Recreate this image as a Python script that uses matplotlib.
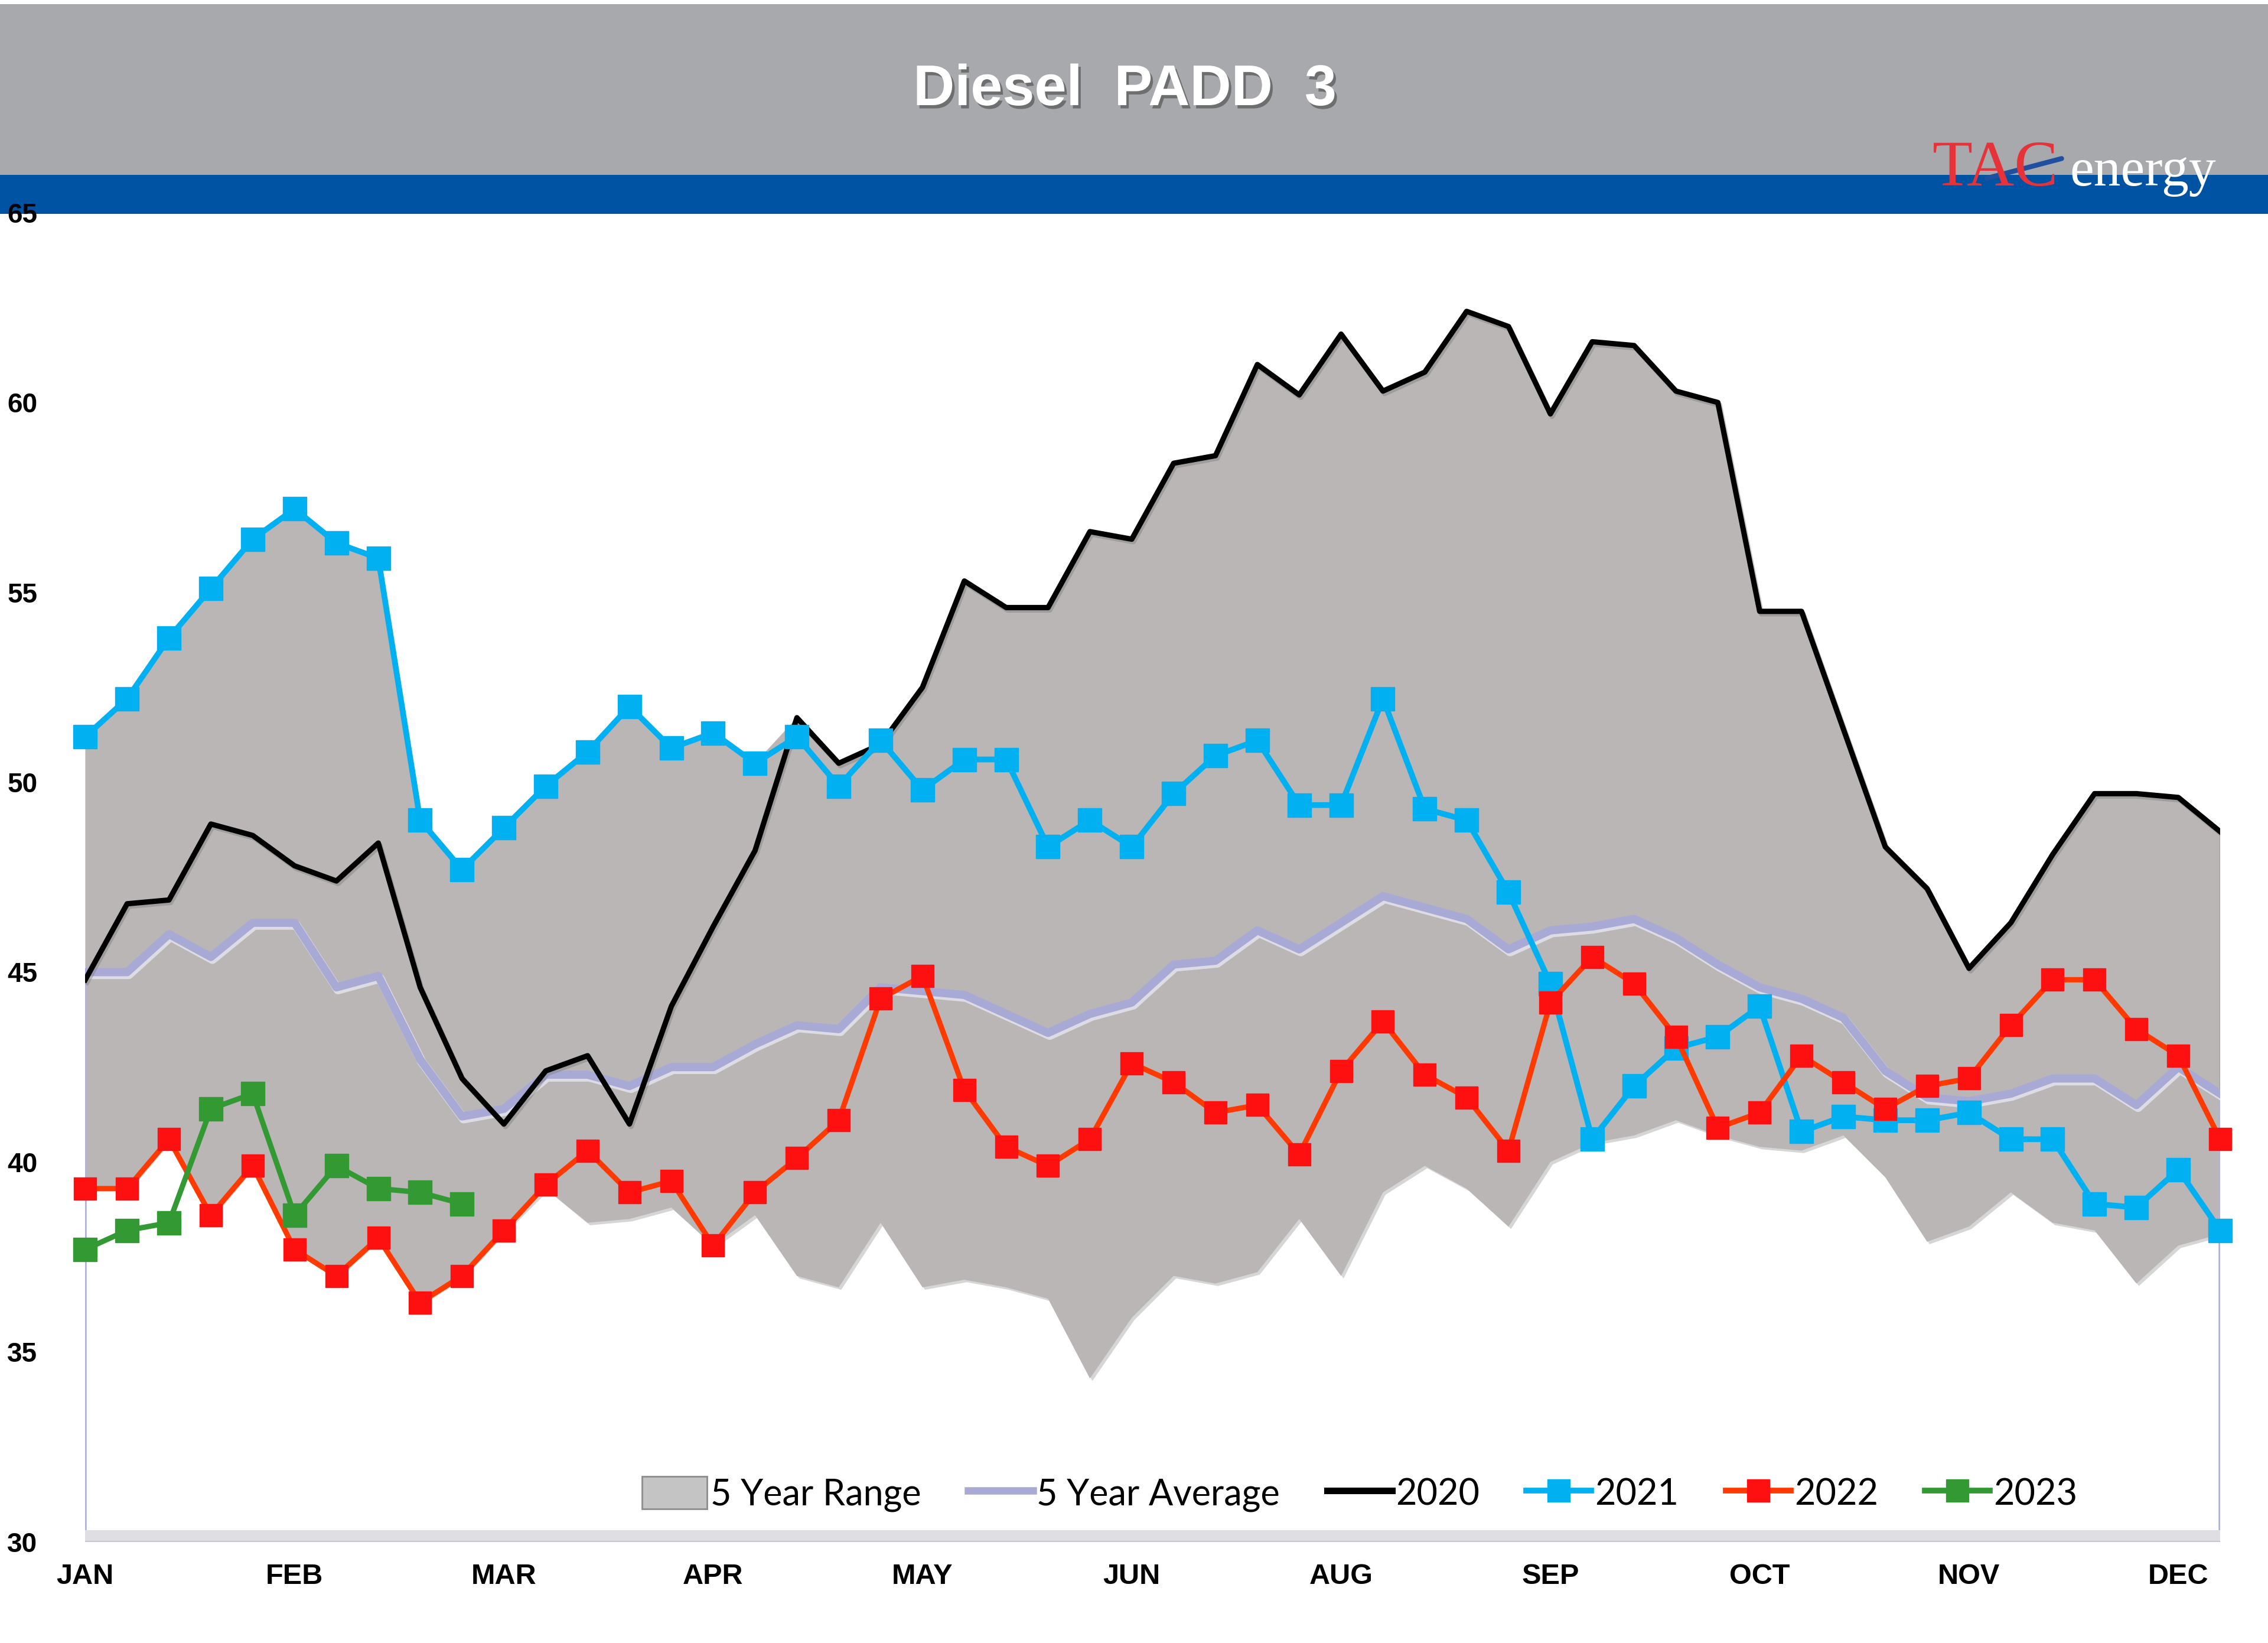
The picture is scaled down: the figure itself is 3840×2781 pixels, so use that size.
import numpy as np
import matplotlib.pyplot as plt
import matplotlib.patheffects as pe
from matplotlib.patches import Rectangle, Patch
from matplotlib.lines import Line2D

# --- data (weekly, 52 weeks) ---
weeks = np.arange(52)
month_ticks = [0, 5, 10, 15, 20, 25, 30, 35, 40, 45, 50]
month_labels = ["JAN", "FEB", "MAR", "APR", "MAY", "JUN", "AUG", "SEP", "OCT", "NOV", "DEC"]

y2020 = [44.8, 46.8, 46.9, 48.9, 48.6, 47.8, 47.4, 48.4, 44.6, 42.2, 41.0, 42.4, 42.8, 41.0,
         44.1, 46.2, 48.2, 51.7, 50.5, 51.0, 52.5, 55.3, 54.6, 54.6, 56.6, 56.4, 58.4, 58.6,
         61.0, 60.2, 61.8, 60.3, 60.8, 62.4, 62.0, 59.7, 61.6, 61.5, 60.3, 60.0, 54.5, 54.5,
         51.4, 48.3, 47.2, 45.1, 46.3, 48.1, 49.7, 49.7, 49.6, 48.7]

y2021 = [51.2, 52.2, 53.8, 55.1, 56.4, 57.2, 56.3, 55.9, 49.0, 47.7, 48.8, 49.9, 50.8, 52.0,
         50.9, 51.3, 50.5, 51.2, 49.9, 51.1, 49.8, 50.6, 50.6, 48.3, 49.0, 48.3, 49.7, 50.7,
         51.1, 49.4, 49.4, 52.2, 49.3, 49.0, 47.1, 44.7, 40.6, 42.0, 43.0, 43.3, 44.1, 40.8,
         41.2, 41.1, 41.1, 41.3, 40.6, 40.6, 38.9, 38.8, 39.8, 38.2]

y2022 = [39.3, 39.3, 40.6, 38.6, 39.9, 37.7, 37.0, 38.0, 36.3, 37.0, 38.2, 39.4, 40.3, 39.2,
         39.5, 37.8, 39.2, 40.1, 41.1, 44.3, 44.9, 41.9, 40.4, 39.9, 40.6, 42.6, 42.1, 41.3,
         41.5, 40.2, 42.4, 43.7, 42.3, 41.7, 40.3, 44.2, 45.4, 44.7, 43.3, 40.9, 41.3, 42.8,
         42.1, 41.4, 42.0, 42.2, 43.6, 44.8, 44.8, 43.5, 42.8, 40.6]

y2023 = [37.7, 38.2, 38.4, 41.4, 41.8, 38.6, 39.9, 39.3, 39.2, 38.9]

avg5 = [45.0, 45.0, 46.0, 45.4, 46.3, 46.3, 44.6, 44.9, 42.7, 41.2, 41.4, 42.3, 42.3, 42.0,
        42.5, 42.5, 43.1, 43.6, 43.5, 44.6, 44.5, 44.4, 43.9, 43.4, 43.9, 44.2, 45.2, 45.3,
        46.1, 45.6, 46.3, 47.0, 46.7, 46.4, 45.6, 46.1, 46.2, 46.4, 45.9, 45.2, 44.6, 44.3,
        43.8, 42.4, 41.7, 41.6, 41.8, 42.2, 42.2, 41.5, 42.5, 41.8]

range_low = [39.3, 39.3, 40.6, 38.6, 39.9, 37.7, 37.0, 38.0, 36.3, 37.0, 38.2, 39.3, 38.4, 38.5,
             38.8, 37.8, 38.6, 37.0, 36.7, 38.4, 36.7, 36.9, 36.7, 36.4, 34.3, 35.9, 37.0, 36.8,
             37.1, 38.5, 37.0, 39.2, 39.9, 39.3, 38.3, 40.0, 40.5, 40.7, 41.1, 40.7, 40.4, 40.3,
             40.7, 39.6, 37.9, 38.3, 39.2, 38.4, 38.2, 36.8, 37.8, 38.1]
range_high = np.maximum(y2020, y2021)

# --- colours ---
C_RANGE = "#bab6b6"
C_AVG = "#a9a9d6"
C_2021 = "#00b0f0"
C_2022_LINE = "#ff3a00"
C_2022_MARK = "#ff1010"
C_2023 = "#339933"

fig = plt.figure(figsize=(38.4, 27.81), dpi=100)

# header band + blue stripe
fig.patches.append(Rectangle((0, 0.8936), 1, 0.104, transform=fig.transFigure,
                             facecolor="#a7a9ac", edgecolor="none", zorder=-1))
fig.patches.append(Rectangle((0, 0.8698), 1, 0.0238, transform=fig.transFigure,
                             facecolor="#0053a3", edgecolor="none", zorder=-1))

fig.text(0.496, 0.945, "Diesel  PADD  3", color="white", fontsize=70, fontweight="bold",
         family="Liberation Sans", ha="center", va="center",
         path_effects=[pe.withSimplePatchShadow(offset=(3, -4), shadow_rgbFace="#555555", alpha=0.7)])

# logo
fig.text(0.852, 0.887, "TAC", color="#e63339", fontsize=80, family="Liberation Serif",
         ha="left", va="baseline")
fig.text(0.9125, 0.887, "energy", color="white", fontsize=66, family="Liberation Serif",
         ha="left", va="baseline")
fig.lines.append(Line2D([0.876, 0.909], [0.8915, 0.9035], transform=fig.transFigure,
                        color="#1f4f9f", lw=6, solid_capstyle="round"))

ax = fig.add_axes([0.0376, 0.0616, 0.9413, 0.809])
ax.set_zorder(2)
ax.patch.set_alpha(0)
ax.set_xlim(0, 51)
ax.set_ylim(30, 65)
for s in ax.spines.values():
    s.set_visible(False)

# 5 year range
ax.fill_between(weeks, range_low, range_high, color=C_RANGE, lw=0, zorder=1,
                path_effects=[pe.withSimplePatchShadow(offset=(3, -3), shadow_rgbFace="#8a8a8a", alpha=0.35)])

# edges of the area down to the floor
ax.vlines([weeks[0], weeks[-1]], 30, [avg5[0], avg5[-1]], color="#b3b3d4", lw=4, zorder=2)
ax.vlines([weeks[-1]], avg5[-1], range_high[-1], color="#9a9a9a", lw=2, zorder=2)

# floor
ax.axhspan(30, 30.3, color="#dedee3", lw=0, zorder=2)
ax.axhline(30, color="#c6c6ce", lw=3, zorder=2)

ax.plot(weeks, avg5, color="#e6e6f0", lw=11, zorder=3, alpha=0.8,
        path_effects=[pe.Stroke(offset=(2, -3))])
ax.plot(weeks, avg5, color=C_AVG, lw=10, zorder=3)
ax.plot(weeks, y2020, color="black", lw=6.5, zorder=4,
        path_effects=[pe.SimpleLineShadow(offset=(2, -3), shadow_color="#777777", alpha=0.4), pe.Normal()])
ax.plot(weeks, y2021, color=C_2021, lw=7, marker="s", markersize=29, zorder=5, clip_on=False)
ax.plot(weeks, y2022, color=C_2022_LINE, lw=6.5, marker="s", markersize=27,
        markerfacecolor=C_2022_MARK, markeredgecolor=C_2022_MARK, zorder=6, clip_on=False)
ax.plot(weeks[:len(y2023)], y2023, color=C_2023, lw=6.5, marker="s", markersize=29,
        zorder=7, clip_on=False)

ax.set_yticks(range(30, 66, 5))
ax.set_xticks(month_ticks)
ax.set_xticklabels(month_labels)
ax.tick_params(axis="y", length=0, pad=95, labelsize=33)
ax.tick_params(axis="x", length=0, pad=26, labelsize=35)
for lab in ax.get_yticklabels():
    lab.set_family("Liberation Sans")
    lab.set_fontweight("bold")
    lab.set_horizontalalignment("left")
for lab in ax.get_xticklabels():
    lab.set_family("Liberation Sans")
    lab.set_fontweight("bold")

handles = [
    Patch(facecolor="#c4c4c4", edgecolor="#8c8c8c", lw=2),
    Line2D([], [], color=C_AVG, lw=9),
    Line2D([], [], color="black", lw=8),
    Line2D([], [], color=C_2021, lw=7, marker="s", markersize=27),
    Line2D([], [], color=C_2022_LINE, lw=7, marker="s", markersize=27,
           markerfacecolor=C_2022_MARK, markeredgecolor=C_2022_MARK),
    Line2D([], [], color=C_2023, lw=7, marker="s", markersize=27),
]
labels = ["5 Year Range", "5 Year Average", "2020", "2021", "2022", "2023"]
ax.legend(handles, labels, loc="center", bbox_to_anchor=(0.597, 0.036), ncol=6,
          frameon=False, prop={"family": "Lato", "size": 44}, handlelength=1.8,
          handletextpad=0.1, columnspacing=1.3, handleheight=1.0)

fig.savefig("out.png", dpi=100)
